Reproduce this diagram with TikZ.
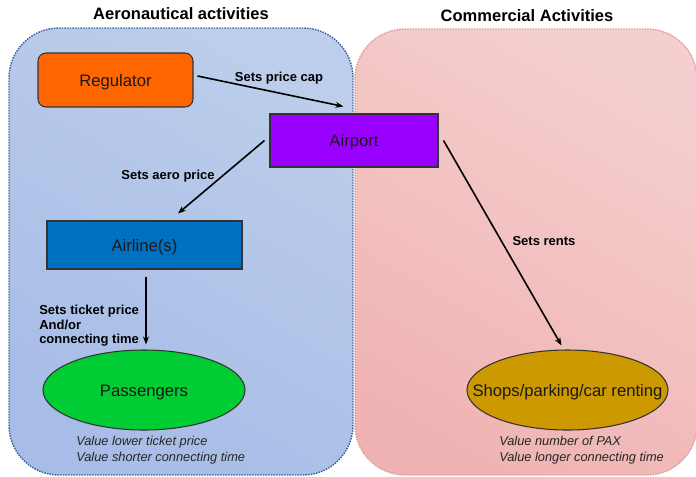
\documentclass[tikz,border=0pt]{standalone}
\usepackage{fontspec}
\setmainfont{Liberation Sans}
\usetikzlibrary{shapes.geometric,arrows.meta,calc}
\definecolor{regfill}{HTML}{FF6600}
\definecolor{airfill}{HTML}{9900FF}
\definecolor{linefill}{HTML}{0070C0}
\definecolor{paxfill}{HTML}{00CC33}
\definecolor{shopfill}{HTML}{CC9900}
\definecolor{blueA}{HTML}{BCCEEB}
\definecolor{blueB}{HTML}{A7BCE7}
\definecolor{pinkA}{HTML}{F5CFCF}
\definecolor{pinkB}{HTML}{F0B3B3}
\definecolor{blueedge}{HTML}{3A5F99}
\definecolor{pinkedge}{HTML}{E29A9A}
\definecolor{edgegray}{HTML}{333333}
\tikzset{
  boxnode/.style={draw=edgegray, line width=0.8pt, inner sep=0pt, text height=9pt, text depth=0pt, font=\fontsize{12.5}{14}\selectfont, text=black!90},
  ellnode/.style={boxnode, ellipse, inner xsep=-25pt},
  arr/.style={-{Stealth[length=6pt,width=4.5pt]}, line width=1.2pt, black},
  lbl/.style={font=\fontsize{9.75}{11}\selectfont\bfseries, inner sep=0pt},
  note/.style={font=\fontsize{9.6}{12}\selectfont\itshape, inner sep=0pt, align=left, anchor=west, text=black!85},
  ttl/.style={font=\fontsize{12.4}{14}\selectfont\bfseries, inner sep=0pt},
  region/.style={line width=1.1pt, dash pattern=on 1.1pt off 0.9pt, rounded corners=37.5pt}
}
\begin{document}
\begin{tikzpicture}[x=0.75pt,y=-0.75pt]
\useasboundingbox (0,0) rectangle (696,476);
\fill[white] (0,0) rectangle (696,476);
% regions
\shade[top color=pinkA, bottom color=pinkB, shading angle=-30, rounded corners=37.5pt] (355,29) rectangle (697,475);
\draw[region, draw=pinkedge] (355,29) rectangle (697,475);
\shade[top color=blueA, bottom color=blueB, shading angle=-30, rounded corners=37.5pt] (9,28) rectangle (353,475);
\draw[region, draw=blueedge] (9,28) rectangle (353,475);
% titles
\node[ttl] (t1) at (181,14) {Aeronautical activities};
\node[ttl] (t2) at (527,16) {Commercial Activities};
% nodes
\node[boxnode, fill=regfill, rounded corners=6pt, minimum width=116.25pt, minimum height=40.5pt] (reg) at (115.5,80) {Regulator};
\node[boxnode, fill=airfill, minimum width=126pt, minimum height=39.75pt] (air) at (354,140.5) {Airport};
\node[boxnode, fill=linefill, minimum width=146.25pt, minimum height=36pt] (line) at (144.5,245) {Airline(s)};
\node[ellnode, fill=paxfill, minimum width=151.5pt, minimum height=60pt] (pax) at (144,390) {Passengers};
\node[ellnode, fill=shopfill, minimum width=150.75pt, minimum height=60pt] (shop) at (567.5,390) {Shops/parking/car renting};
% connectors
\draw[arr] ([shift={(4,-4)}]reg.east) -- ([shift={(74,-7)}]air.north west);
\draw[arr] ([shift={(-5,0)}]air.west) -- ([shift={(33.5,-7)}]line.north);
\draw[arr] ([shift={(1.5,7)}]line.south) -- ([shift={(2,-5)}]pax.north);
\draw[arr] ([shift={(5,0)}]air.east) -- ([shift={(-6,-4)}]shop.north);
% labels
\node[lbl] (l1) at (279,78) {Sets price cap};
\node[lbl] (l2) at (168,176) {Sets aero price};
\node[lbl] (l3) at (544,241) {Sets rents};
\node[lbl, align=left, anchor=north west, font=\fontsize{9.75}{10.9}\selectfont\bfseries] (l4) at (39,305) {Sets ticket price\\And/or\\connecting time};
% notes
\node[note] (n1) at (76,450) {Value lower ticket price\\Value shorter connecting time};
\node[note] (n2) at (499,450) {Value number of PAX\\Value longer connecting time};
\end{tikzpicture}
\end{document}
